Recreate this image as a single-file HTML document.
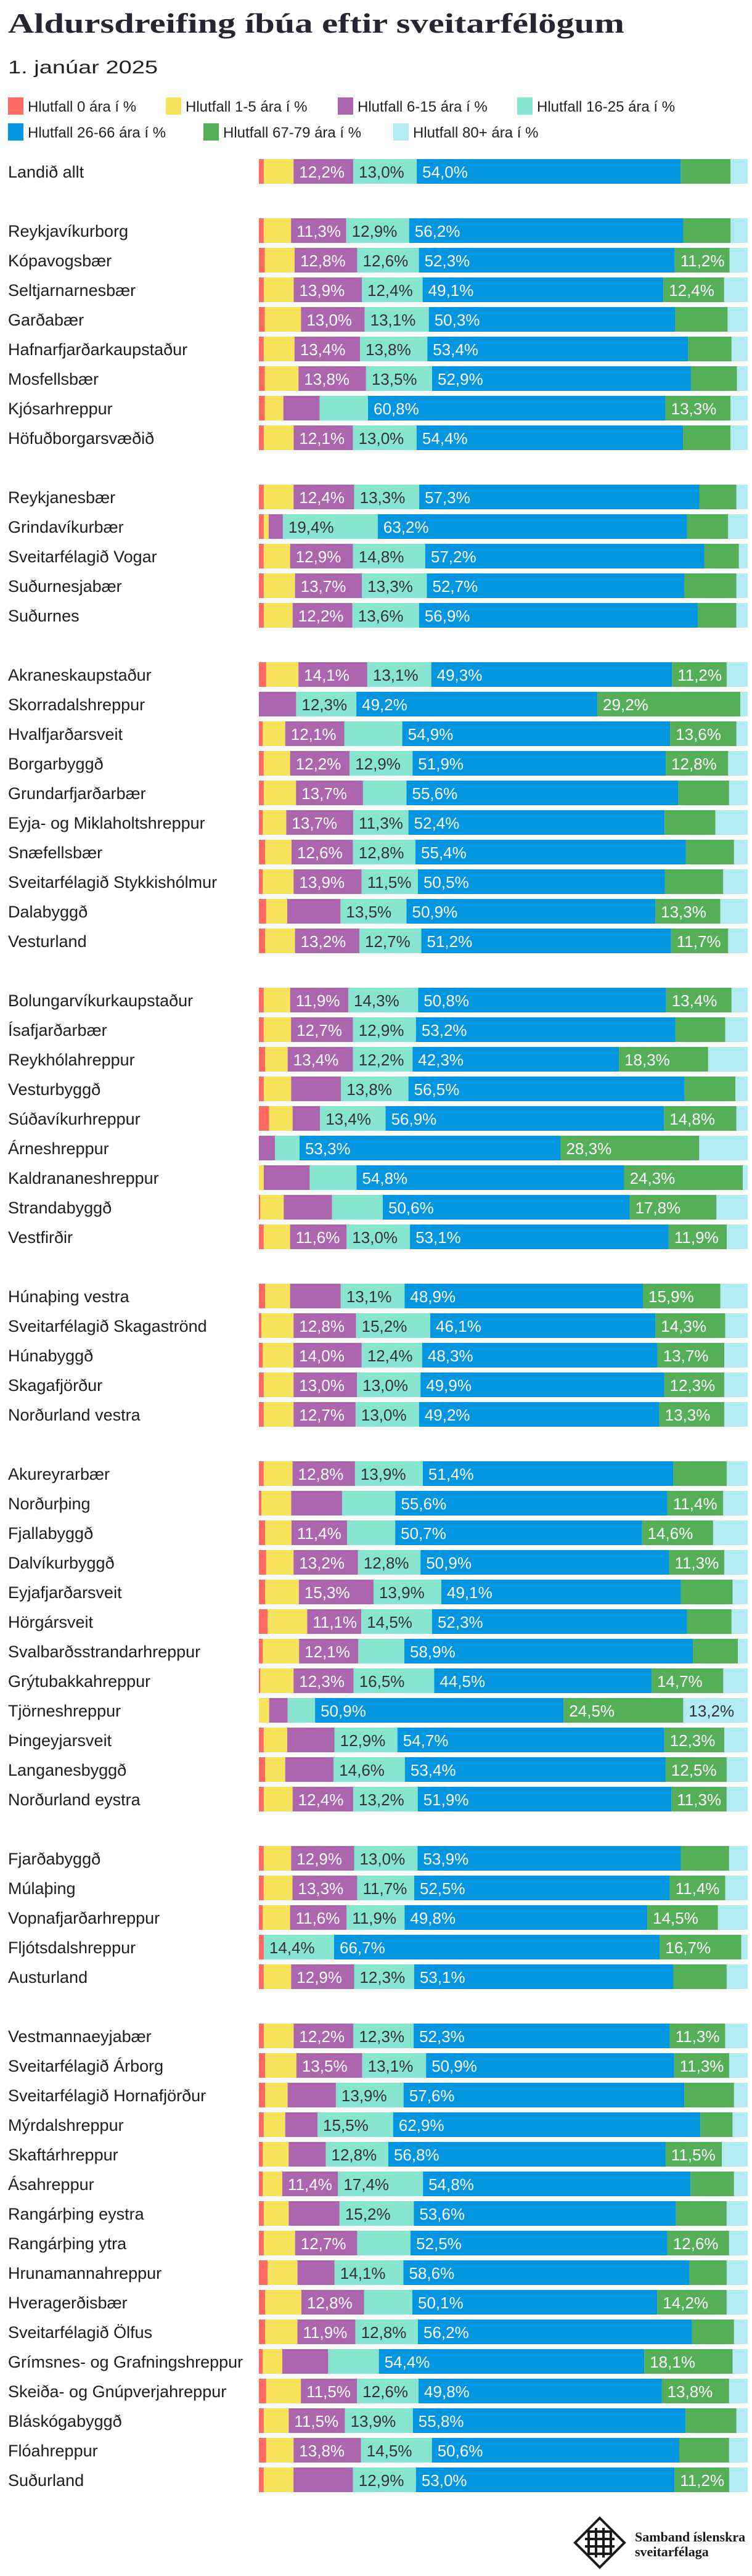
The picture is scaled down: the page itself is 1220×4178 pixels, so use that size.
<!DOCTYPE html>
<html><head><meta charset="utf-8">
<style>
html,body{margin:0;padding:0;background:#fff;}
svg{display:block;}
</style></head>
<body>
<svg id="chart" xmlns="http://www.w3.org/2000/svg" width="1220" height="4178" viewBox="0 0 1220 4178">
  <text x="13" y="53" font-family="Liberation Serif, serif" font-weight="bold" font-size="46" fill="#262633" textLength="1000" lengthAdjust="spacingAndGlyphs">Aldursdreifing íbúa eftir sveitarfélögum</text>
  <text x="13" y="119" font-family="Liberation Sans, sans-serif" font-size="30" fill="#222" textLength="243" lengthAdjust="spacingAndGlyphs">1. janúar 2025</text>
  <g id="legend"></g>
  <g id="bars"></g>
  <g id="logo" fill="none" stroke="#1a1a1a" stroke-width="4">
    <polygon points="973,4084 990,4101 1013,4124 990,4147 973,4164 956,4147 933,4124 956,4101"/>
    <rect x="955" y="4106" width="36" height="36"/>
    <line x1="967" y1="4100" x2="967" y2="4148"/>
    <line x1="979" y1="4100" x2="979" y2="4148"/>
    <line x1="949" y1="4118" x2="997" y2="4118"/>
    <line x1="949" y1="4130" x2="997" y2="4130"/>
  </g>
  <text x="1030" y="4122" font-family="Liberation Serif, serif" font-weight="bold" font-size="22" fill="#1a1a1a">Samband íslenskra</text>
  <text x="1030" y="4146" font-family="Liberation Serif, serif" font-weight="bold" font-size="22" fill="#1a1a1a">sveitarfélaga</text>
</svg>
<script>
const seriesNames = ["Hlutfall 0 ára í %","Hlutfall 1-5 ára í %","Hlutfall 6-15 ára í %","Hlutfall 16-25 ára í %","Hlutfall 26-66 ára í %","Hlutfall 67-79 ára í %","Hlutfall 80+ ára í %"];
const categories = ["Landið allt",null,
"Reykjavíkurborg","Kópavogsbær","Seltjarnarnesbær","Garðabær","Hafnarfjarðarkaupstaður","Mosfellsbær","Kjósarhreppur","Höfuðborgarsvæðið",null,
"Reykjanesbær","Grindavíkurbær","Sveitarfélagið Vogar","Suðurnesjabær","Suðurnes",null,
"Akraneskaupstaður","Skorradalshreppur","Hvalfjarðarsveit","Borgarbyggð","Grundarfjarðarbær","Eyja- og Miklaholtshreppur","Snæfellsbær","Sveitarfélagið Stykkishólmur","Dalabyggð","Vesturland",null,
"Bolungarvíkurkaupstaður","Ísafjarðarbær","Reykhólahreppur","Vesturbyggð","Súðavíkurhreppur","Árneshreppur","Kaldrananeshreppur","Strandabyggð","Vestfirðir",null,
"Húnaþing vestra","Sveitarfélagið Skagaströnd","Húnabyggð","Skagafjörður","Norðurland vestra",null,
"Akureyrarbær","Norðurþing","Fjallabyggð","Dalvíkurbyggð","Eyjafjarðarsveit","Hörgársveit","Svalbarðsstrandarhreppur","Grýtubakkahreppur","Tjörneshreppur","Þingeyjarsveit","Langanesbyggð","Norðurland eystra",null,
"Fjarðabyggð","Múlaþing","Vopnafjarðarhreppur","Fljótsdalshreppur","Austurland",null,
"Vestmannaeyjabær","Sveitarfélagið Árborg","Sveitarfélagið Hornafjörður","Mýrdalshreppur","Skaftárhreppur","Ásahreppur","Rangárþing eystra","Rangárþing ytra","Hrunamannahreppur","Hveragerðisbær","Sveitarfélagið Ölfus","Grímsnes- og Grafningshreppur","Skeiða- og Gnúpverjahreppur","Bláskógabyggð","Flóahreppur","Suðurland"];
const age0 = [1.0,null,1.0,1.2,1.0,1.2,1.0,1.2,1.2,1.0,null,1.0,1.0,1.0,1.0,1.0,null,1.5,0,0.8,1.0,1.0,0.8,1.3,0.8,1.5,1.3,null,1.0,1.0,1.3,1.0,2.1,0,0,0.3,1.0,null,1.3,0.5,0.8,1.0,1.0,null,1.0,0.5,1.3,1.5,1.3,1.8,0.8,0.3,0,1.0,1.3,1.0,null,1.0,1.0,0.8,1.0,1.0,null,1.0,1.3,1.3,1.0,0.8,0.8,1.0,1.0,1.8,1.3,1.3,0.8,1.5,1.0,1.5,1.0];
const age1to5 = [6.1,null,5.6,6.1,6.1,7.4,6.3,6.9,3.8,6.1,null,6.1,1.0,5.4,6.4,5.9,null,6.6,0,4.6,5.4,6.6,4.8,5.4,6.3,4.3,6.1,null,5.4,5.6,4.6,5.6,4.8,0,1.0,4.8,5.4,null,5.1,6.6,6.3,6.1,6.1,null,5.9,6.1,5.4,5.6,6.9,8.1,7.4,6.8,2.1,4.8,4.1,5.9,null,5.6,5.9,5.6,0,5.6,null,6.1,6.4,4.6,4.4,5.3,4.0,5.1,6.4,6.1,7.4,6.6,4.0,7.1,5.1,5.6,6.1];
const age6to15 = [12.2,null,11.3,12.8,13.9,13.0,13.4,13.8,7.4,12.1,null,12.4,2.9,12.9,13.7,12.2,null,14.1,7.6,12.1,12.2,13.7,13.7,12.6,13.9,10.9,13.2,null,11.9,12.7,13.4,10.2,5.6,3.3,9.4,9.9,11.6,null,10.4,12.8,14.0,13.0,12.7,null,12.8,10.4,11.4,13.2,15.3,11.1,12.1,12.3,3.8,9.7,9.9,12.4,null,12.9,13.3,11.6,0,12.9,null,12.2,13.5,9.9,6.6,7.6,11.4,10.4,12.7,7.6,12.8,11.9,9.4,11.5,11.5,13.8,12.2];
const age16to25 = [13.0,null,12.9,12.6,12.4,13.1,13.8,13.5,9.9,13.0,null,13.3,19.4,14.8,13.3,13.6,null,13.1,12.3,11.9,12.9,8.9,11.3,12.8,11.5,13.5,12.7,null,14.3,12.9,12.2,13.8,13.4,5.0,9.6,10.4,13.0,null,13.1,15.2,12.4,13.0,13.0,null,13.9,10.9,9.9,12.8,13.9,14.5,9.4,16.5,5.6,12.9,14.6,13.2,null,13.0,11.7,11.9,14.4,12.3,null,12.3,13.1,13.9,15.5,12.8,17.4,15.2,10.9,14.1,9.9,12.8,10.4,12.6,13.9,14.5,12.9];
const age26to66 = [54.0,null,56.2,52.3,49.1,50.3,53.4,52.9,60.8,54.4,null,57.3,63.2,57.2,52.7,56.9,null,49.3,49.2,54.9,51.9,55.6,52.4,55.4,50.5,50.9,51.2,null,50.8,53.2,42.3,56.5,56.9,53.3,54.8,50.6,53.1,null,48.9,46.1,48.3,49.9,49.2,null,51.4,55.6,50.7,50.9,49.1,52.3,58.9,44.5,50.9,54.7,53.4,51.9,null,53.9,52.5,49.8,66.7,53.1,null,52.3,50.9,57.6,62.9,56.8,54.8,53.6,52.5,58.6,50.1,56.2,54.4,49.8,55.8,50.6,53.0];
const age67to79 = [10.2,null,9.7,11.2,12.4,10.7,8.9,9.4,13.3,9.7,null,7.6,8.4,7.1,10.7,7.9,null,11.2,29.2,13.6,12.8,10.4,10.4,9.9,11.9,13.3,11.7,null,13.4,10.2,18.3,10.4,14.8,28.3,24.3,17.8,11.9,null,15.9,14.3,13.7,12.3,13.3,null,10.9,11.4,14.6,11.3,10.6,9.1,9.2,14.7,24.5,12.3,12.5,11.3,null,9.9,11.4,14.5,16.7,10.9,null,11.3,11.3,10.2,6.6,11.5,8.9,10.4,12.6,7.6,14.2,8.6,18.1,13.8,10.4,10.2,11.2];
const age80plus = [3.5,null,3.5,3.7,4.8,4.1,3.3,2.2,3.5,3.5,null,2.3,4.0,1.8,2.3,2.3,null,4.3,1.5,2.3,4.0,3.8,6.6,2.8,5.0,5.6,4.0,null,3.3,4.6,8.1,2.5,2.3,9.9,1.0,6.4,4.3,null,5.6,4.6,4.8,4.8,4.8,null,4.3,5.0,7.1,4.8,3.1,3.3,2.0,5.0,13.2,4.8,4.3,4.3,null,3.8,4.6,6.1,1.3,4.3,null,4.6,3.8,2.8,3.1,5.3,2.8,4.3,3.8,4.3,4.3,2.8,3.1,3.8,2.3,3.8,3.8];
const hiddenLabels = ["Hvalfjarðarsveit:3","Sveitarfélagið Stykkishólmur:5","Suðurland:2"];
const labelThreshold = 11;

const colors = ["#ff6b63","#f7e35c","#ab66ad","#86e4cf","#0396e0","#55ae58","#b3ebf3"];
const textColors = ["#fff","#333","#fff","#333","#fff","#fff","#333"];
const series = [age0,age1to5,age6to15,age16to25,age26to66,age67to79,age80plus];
const NS = "http://www.w3.org/2000/svg";
const X0 = 420, X1 = 1213, Y0 = 258, PITCH = 48, BARH = 40;
function xScale(frac){ return X0 + frac*(X1-X0); }
function yScale(i){ return Y0 + i*PITCH; }
function mk(tag, attrs){ const e=document.createElementNS(NS,tag); for(const k in attrs) e.setAttribute(k,attrs[k]); return e; }

const legend = document.getElementById('legend');
const legPos = [[13,158],[269,158],[548,158],[839,158],[13,200],[330,200],[638,200]];
seriesNames.forEach((n,k)=>{
  const g = mk('g',{});
  
  
  const r = mk('rect',{x:legPos[k][0],y:legPos[k][1],width:25,height:28,fill:colors[k]});
  const t = mk('text',{x:legPos[k][0]+32,y:legPos[k][1]+23,'font-family':'Liberation Sans, sans-serif','font-size':'24',fill:'#222'});
  t.textContent = n;
  g.appendChild(r); g.appendChild(t); legend.appendChild(g);
});

const bars = document.getElementById('bars');
categories.forEach((name,i)=>{
  if(name===null) return;
  const y = yScale(i);
  const row = mk('g',{});
  
  
  const lab = mk('text',{x:13,y:y+30,'font-family':'Liberation Sans, sans-serif','font-size':'27',fill:'#1e1e1e'});
  
  
  lab.textContent = name;
  row.appendChild(lab);
  const vals = series.map(s=>s[i]);
  const total = vals.reduce((a,b)=>a+b,0);
  let cum = 0;
  vals.forEach((v,k)=>{
    if(v<=0){ return; }
    const xa = xScale(cum/total), xb = xScale((cum+v)/total);
    const r = mk('rect',{x:xa.toFixed(2),y:y,width:(xb-xa).toFixed(2),height:BARH,fill:colors[k]});
    
    
    row.appendChild(r);
    if(v>=labelThreshold && hiddenLabels.indexOf(name+':'+k)<0){
      const t = mk('text',{x:(xa+9).toFixed(2),y:y+30,'font-family':'Liberation Sans, sans-serif','font-size':'26',fill:textColors[k]});
      
      
      t.textContent = v.toFixed(1).replace('.',',')+'%';
      row.appendChild(t);
    }
    cum += v;
  });
  bars.appendChild(row);
});
</script>
</body></html>
